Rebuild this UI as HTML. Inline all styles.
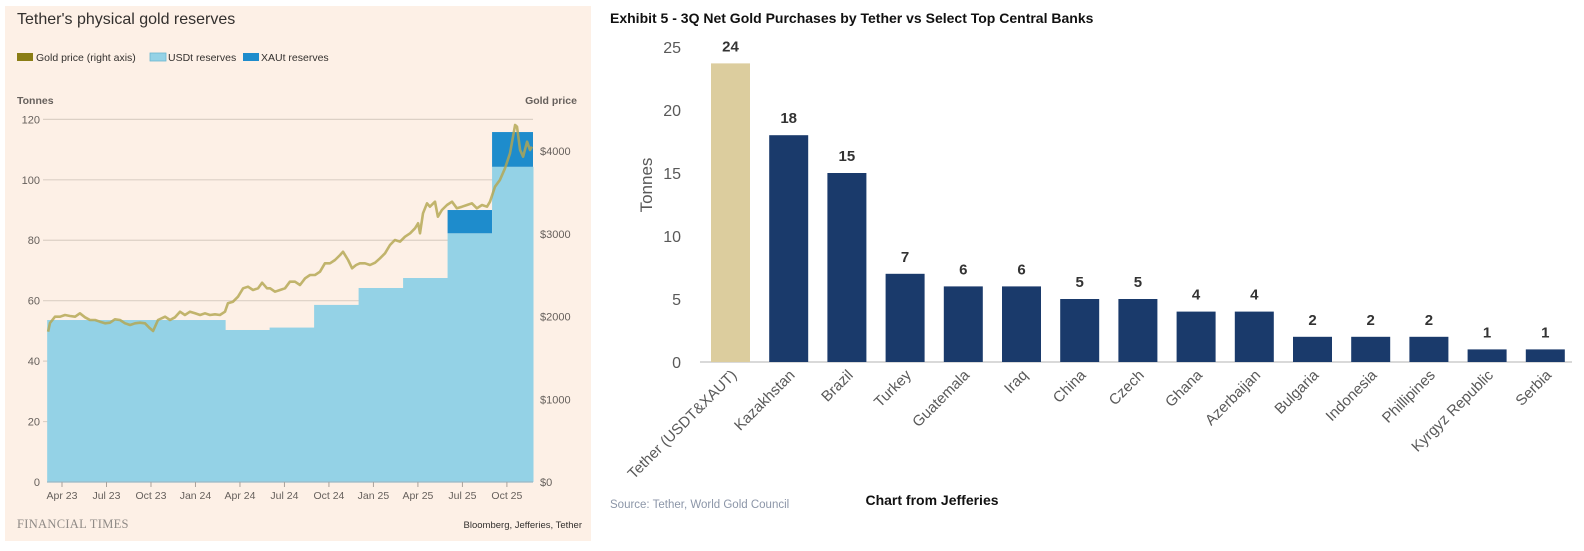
<!DOCTYPE html>
<html><head><meta charset="utf-8">
<style>
html,body{margin:0;padding:0;background:#fff;}
svg{display:block;font-family:"Liberation Sans",sans-serif;}
</style></head>
<body>
<svg id="root" width="1584" height="551" viewBox="0 0 1584 551" xmlns="http://www.w3.org/2000/svg">
  <g id="ft">
    <rect x="5" y="6" width="586" height="535" fill="#fdf0e6"/>
    <text x="17" y="24" font-size="16" fill="#33302e">Tether's physical gold reserves</text>
    <g>
      <rect x="17" y="53" width="16" height="8" fill="#8a7d15"/>
      <text x="36" y="61" font-size="10.5" fill="#33302e">Gold price (right axis)</text>
      <rect x="150" y="53" width="16" height="8" fill="#94d2e6" stroke="#6bb7d0" stroke-width="0.8"/>
      <text x="168" y="61" font-size="10.5" fill="#33302e">USDt reserves</text>
      <rect x="243" y="53" width="16" height="8" fill="#1e8ccc"/>
      <text x="261" y="61" font-size="10.5" fill="#33302e">XAUt reserves</text>
    </g>
    <text x="17" y="104" font-size="10.5" font-weight="bold" fill="#66605c">Tonnes</text>
    <text x="577" y="104" font-size="10.5" font-weight="bold" fill="#66605c" text-anchor="end">Gold price</text>
    <g id="ftGrid"></g>
    <g id="ftArea"></g>
    <g id="ftLine"></g>
    <g id="ftAxis"></g>
    <text x="17" y="528" font-size="12.5" fill="#8f8a86" font-family="Liberation Serif, serif" letter-spacing="0.3">FINANCIAL TIMES</text>
    <text x="582" y="528" font-size="9.5" fill="#33302e" text-anchor="end">Bloomberg, Jefferies, Tether</text>
  </g>
  <g id="jef">
    <text x="610" y="23" font-size="14" font-weight="bold" fill="#111">Exhibit 5 - 3Q Net Gold Purchases by Tether vs Select Top Central Banks</text>
    <text transform="translate(652,185) rotate(-90)" font-size="17" fill="#595959" text-anchor="middle">Tonnes</text>
    <g id="jefAxis"></g>
    <g id="jefBars"></g>
    <text x="610" y="508" font-size="11.5" fill="#8c96a8">Source: Tether, World Gold Council</text>
    <text x="932" y="505" font-size="14" font-weight="bold" fill="#111" text-anchor="middle">Chart from Jefferies</text>
  </g>
</svg>
<script>
// ---------- FT chart data ----------
const ftTonneTicks = [0, 20, 40, 60, 80, 100, 120];
const ftPriceTicks = ["$0", "$1000", "$2000", "$3000", "$4000"];
const ftPriceTickValues = [0, 1000, 2000, 3000, 4000];
const ftMonthLabels = ["Apr 23","Jul 23","Oct 23","Jan 24","Apr 24","Jul 24","Oct 24","Jan 25","Apr 25","Jul 25","Oct 25"];
const ftMonthTickPos = [0,3,6,9,12,15,18,21,24,27,30]; // months since Apr 2023
const ftStepEdges = [-1, 11, 14, 17, 20, 23, 26, 29, 31.76]; // months since Apr 2023
const ftUsdt = [53.6, 50.3, 51.1, 58.6, 64.2, 67.5, 82.3, 104.3];
const ftXaut = [0, 0, 0, 0, 0, 0, 7.7, 11.5];
const ftPriceMonths = [-0.94,-0.81,-0.47,-0.13,0.20,0.54,0.88,1.21,1.55,1.89,2.23,2.56,2.90,3.24,3.57,3.91,4.25,4.59,4.92,5.26,5.60,5.93,6.14,6.47,6.95,7.28,7.62,7.96,8.29,8.63,8.97,9.31,9.64,9.98,10.32,10.65,10.99,11.19,11.53,11.87,12.21,12.54,12.88,13.22,13.49,13.82,14.03,14.36,14.70,15.04,15.37,15.71,16.05,16.39,16.72,17.06,17.40,17.73,18.07,18.41,18.75,18.95,19.29,19.56,19.83,20.09,20.43,20.77,21.11,21.44,21.78,22.12,22.45,22.79,23.13,23.47,23.80,24.01,24.14,24.34,24.61,24.81,25.15,25.35,25.62,25.96,26.30,26.63,26.97,27.31,27.64,27.98,28.32,28.66,28.86,29.20,29.53,29.87,30.21,30.41,30.55,30.68,30.89,31.09,31.36,31.56,31.69];
const ftPrices = [1817,1923,1999,1999,2019,2007,1999,2040,1992,1959,1959,1938,1919,1926,1967,1959,1919,1898,1919,1926,1919,1859,1826,1959,1999,1959,1992,2059,2019,2059,2040,2019,2040,2019,2028,2019,2059,2161,2180,2241,2342,2362,2322,2342,2410,2342,2342,2301,2322,2342,2422,2422,2382,2463,2503,2503,2543,2645,2645,2684,2745,2785,2684,2584,2624,2645,2645,2624,2652,2705,2765,2866,2926,2906,2966,3007,3068,3128,3007,3249,3370,3329,3389,3208,3289,3349,3389,3310,3329,3349,3370,3310,3349,3329,3389,3571,3652,3793,3975,4175,4317,4296,4015,3934,4115,4015,4055];

// ---------- Jefferies chart data ----------
const jefCategories = ["Tether (USDT&XAUT)","Kazakhstan","Brazil","Turkey","Guatemala","Iraq","China","Czech","Ghana","Azerbaijan","Bulgaria","Indonesia","Phillipines","Kyrgyz Republic","Serbia"];
const jefValues = [23.7, 18, 15, 7, 6, 6, 5, 5, 4, 4, 2, 2, 2, 1, 1];
const jefValueLabels = ["24","18","15","7","6","6","5","5","4","4","2","2","2","1","1"];
const jefYTicks = [0, 5, 10, 15, 20, 25];

const NS = "http://www.w3.org/2000/svg";
function mk(tag, attrs, parent, text) {
  const el = document.createElementNS(NS, tag);
  for (const k in attrs) el.setAttribute(k, attrs[k]);
  if (text !== undefined) el.textContent = text;
  parent.appendChild(el);
  return el;
}

// FT scales
const ftX0 = 62, ftPxPerMonth = 14.83, ftPlotL = 47, ftPlotR = 533;
const ftX = m => ftX0 + m * ftPxPerMonth;
const ftYt = t => 482 - t * 3.022;
const ftYp = p => 482 - p * 0.0827;

const grid = document.getElementById('ftGrid');
ftTonneTicks.forEach(t => {
  if (t > 0) {
    const gl = mk('line', {x1: 43, x2: ftPlotR, y1: ftYt(t), y2: ftYt(t), stroke: '#dcd0c5', 'stroke-width': 1.2}, grid);
    
    
  }
  const lb = mk('text', {x: 40, y: ftYt(t) + 4, 'font-size': 11, fill: '#66605c', 'text-anchor': 'end'}, grid, String(t));
  
  
});
ftPriceTickValues.forEach((p, i) => {
  const lb = mk('text', {x: 540, y: ftYp(p) + 4, 'font-size': 11, fill: '#66605c'}, grid, ftPriceTicks[i]);
  
  
});

const area = document.getElementById('ftArea');
ftUsdt.forEach((v, i) => {
  const xa = ftX(ftStepEdges[i]), xb = ftX(ftStepEdges[i + 1]);
  const r = mk('rect', {x: xa, y: ftYt(v), width: xb - xa + 0.5, height: ftYt(0) - ftYt(v), fill: '#94d2e6'}, area);
  
  
  if (ftXaut[i] > 0) {
    const r2 = mk('rect', {x: xa, y: ftYt(v + ftXaut[i]), width: xb - xa, height: ftYt(v) - ftYt(v + ftXaut[i]), fill: '#1e8ccc'}, area);
    
    
  }
});

const lineG = document.getElementById('ftLine');
let d = '';
ftPrices.forEach((p, i) => {
  const x = Math.max(ftPlotL, ftX(ftPriceMonths[i]));
  d += (i ? 'L' : 'M') + x.toFixed(1) + ',' + ftYp(p).toFixed(1);
});
const pl = mk('path', {d: d, fill: 'none', stroke: '#b3a650', 'stroke-opacity': 0.82, 'stroke-width': 2.6, 'stroke-linejoin': 'round'}, lineG);



const axis = document.getElementById('ftAxis');
const bl = mk('line', {x1: ftPlotL, x2: ftPlotR, y1: 482, y2: 482, stroke: '#9ab8c6', 'stroke-width': 1.2}, axis);


ftMonthLabels.forEach((lab, i) => {
  const x = ftX(ftMonthTickPos[i]);
  const tk = mk('line', {x1: x, x2: x, y1: 482, y2: 487, stroke: '#a9a29c', 'stroke-width': 1}, axis);
  
  
  const tl = mk('text', {x: x, y: 499, 'font-size': 10.5, fill: '#66605c', 'text-anchor': 'middle'}, axis, lab);
  
  
});

// Jefferies scales
const jX0 = 730.5, jStep = 58.2, jBarW = 39;
const jX = i => jX0 + i * jStep;
const jY = v => 362 - v * 12.6;
const jAxis = document.getElementById('jefAxis');
jefYTicks.forEach(t => {
  const lb = mk('text', {x: 681, y: jY(t) + 6, 'font-size': 16, fill: '#595959', 'text-anchor': 'end'}, jAxis, String(t));
  
  
});
const jBase = mk('line', {x1: 700, x2: 1572, y1: 362, y2: 362, stroke: '#d9d9d9', 'stroke-width': 2}, jAxis);



const jBars = document.getElementById('jefBars');
jefCategories.forEach((c, i) => {
  const cx = jX(i), v = jefValues[i];
  const b = mk('rect', {x: cx - jBarW / 2, y: jY(v), width: jBarW, height: jY(0) - jY(v), fill: i === 0 ? '#dccd9e' : '#1a3a6b'}, jBars);
  
  
  const vl = mk('text', {x: cx, y: jY(v) - 12, 'font-size': 15, 'font-weight': 'bold', fill: '#333', 'text-anchor': 'middle'}, jBars, jefValueLabels[i]);
  
  
  const cl = mk('text', {transform: 'translate(' + (cx + 7) + ',376) rotate(-45)', 'font-size': 15, fill: '#595959', 'text-anchor': 'end'}, jBars, c);
  
  
});
</script>
</body></html>
